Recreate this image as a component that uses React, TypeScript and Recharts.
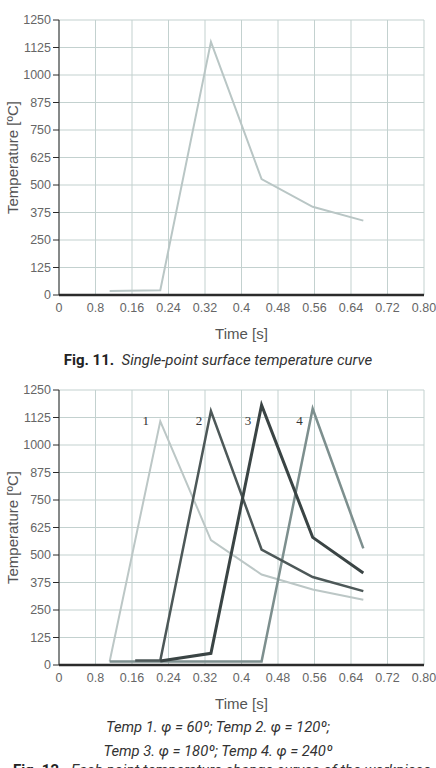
import React from 'react';
import { LineChart, Line, XAxis, YAxis, CartesianGrid, ReferenceDot } from 'recharts';

// tick positions are counted in steps of 0.08 s
const timeStep = 0.08;
const timeTicks = [0, 1, 2, 3, 4, 5, 6, 7, 8, 9, 10];
const timeTickLabels = ['0', '0.8', '0.16', '0.24', '0.32', '0.4', '0.48', '0.56', '0.64', '0.72', '0.80'];
const tempTicks = [0, 125, 250, 375, 500, 625, 750, 875, 1000, 1125, 1250];

// Fig. 11 - single point
const singleTimes = [0.111, 0.222, 0.333, 0.444, 0.556, 0.667];
const singleTemps = [18, 22, 1151, 527, 401, 338];

// Fig. 12 - four points
const temp1Times = [0.111, 0.222, 0.333, 0.444, 0.556, 0.667];
const temp1Values = [16, 1108, 568, 411, 343, 297];
const temp2Times = [0.167, 0.222, 0.333, 0.444, 0.556, 0.667];
const temp2Values = [20, 20, 1154, 525, 400, 336];
const temp3Times = [0.222, 0.333, 0.444, 0.556, 0.667];
const temp3Values = [18, 53, 1181, 580, 418];
const temp4Times = [0.111, 0.444, 0.556, 0.667];
const temp4Values = [16, 16, 1165, 530];

const curveNames = ['1', '2', '3', '4'];
const curveLabelTimes = [0.19, 0.307, 0.414, 0.527];
const curveLabelTemps = [1112, 1112, 1112, 1112];

const zip = (ts: number[], vs: number[]) => ts.map((t, i) => ({ step: t / timeStep, v: vs[i] }));

const sans = '"Liberation Sans", Arial, sans-serif';
const titleFont = { fontFamily: sans, fontSize: 15, fill: '#555' };

const TimeTick = (p: any) => (
  <text x={p.x} y={p.y} dy="0.71em" textAnchor="middle" fontFamily={sans} fontSize={12.5} fill="#666">
    {timeTickLabels[Math.round(p.payload.value)]}
  </text>
);

const TempTick = (p: any) => (
  <text x={p.x} y={p.y} dy="0.355em" textAnchor="end" fontFamily={sans} fontSize={12.5} fill="#666">
    {p.payload.value}
  </text>
);

type Series = { data: { step: number; v: number }[]; color: string; width: number };

const TempChart: React.FC<{ series: Series[]; labels?: boolean }> = ({ series, labels }) => (
  <LineChart width={436} height={345} margin={{ top: 20, right: 12, bottom: 0, left: 0 }}>
    <CartesianGrid stroke="#c3d1cf" />
    <XAxis
      type="number"
      dataKey="step"
      domain={[0, 10]}
      ticks={timeTicks}
      tick={TimeTick}
      tickLine={false}
      axisLine={{ stroke: '#2b2b2b', strokeWidth: 2.5 }}
      height={50}
      interval={0}
      label={{ value: 'Time [s]', position: 'insideBottom', offset: 6, style: titleFont }}
    />
    <YAxis
      type="number"
      dataKey="v"
      domain={[0, 1250]}
      ticks={tempTicks}
      tick={TempTick}
      stroke="#2b2b2b"
      width={59}
      interval={0}
      label={{ value: 'Temperature [ºC]', angle: -90, position: 'center', dx: -17, style: titleFont }}
    />
    {series.map((s, i) => (
      <Line
        key={i}
        data={s.data}
        dataKey="v"
        type="linear"
        stroke={s.color}
        strokeWidth={s.width}
        dot={false}
        isAnimationActive={false}
      />
    ))}
    {labels &&
      curveNames.map((n, i) => (
        <ReferenceDot
          key={n}
          x={curveLabelTimes[i] / timeStep}
          y={curveLabelTemps[i]}
          r={0}
          fill="none"
          stroke="none"
          label={{
            value: n,
            position: 'center',
            style: { fontFamily: '"Liberation Serif", "Times New Roman", serif', fontSize: 13, fill: '#333' },
          }}
        />
      ))}
  </LineChart>
);

const capStyle: React.CSSProperties = {
  position: 'absolute',
  left: 0,
  width: 436,
  textAlign: 'center',
  fontFamily: 'Roboto, "Liberation Sans", sans-serif',
  fontSize: 15,
  color: '#222',
  whiteSpace: 'nowrap',
  lineHeight: '18px',
};

export default function App() {
  return (
    <div style={{ position: 'absolute', top: 0, left: 0, width: 436, height: 768, overflow: 'hidden' }}>
      <div style={{ position: 'absolute', top: 0, left: 0 }}>
        <TempChart series={[{ data: zip(singleTimes, singleTemps), color: '#b9c6c5', width: 2 }]} />
      </div>
      <div style={{ ...capStyle, top: 351 }}>
        <b>Fig. 11.</b>&nbsp; <i style={{ color: '#333' }}>Single-point surface temperature curve</i>
      </div>
      <div style={{ position: 'absolute', top: 370, left: 0 }}>
        <TempChart
          labels
          series={[
            { data: zip(temp1Times, temp1Values), color: '#bcc7c6', width: 2 },
            { data: zip(temp4Times, temp4Values), color: '#7d8f8e', width: 2.5 },
            { data: zip(temp2Times, temp2Values), color: '#4d5858', width: 2.5 },
            { data: zip(temp3Times, temp3Values), color: '#3a4444', width: 3 },
          ]}
        />
      </div>
      <div style={{ ...capStyle, top: 718, fontSize: 14.8, color: '#333' }}>
        <i>Temp 1. φ = 60º; Temp 2. φ = 120º;</i>
      </div>
      <div style={{ ...capStyle, top: 742, fontSize: 14.8, color: '#333' }}>
        <i>Temp 3. φ = 180º; Temp 4. φ = 240º</i>
      </div>
      <div style={{ ...capStyle, top: 761, textAlign: 'left', left: 13 }}>
        <b>Fig. 12.</b>&nbsp; <i style={{ color: '#333' }}>Each point temperature change curves of the workpiece</i>
      </div>
    </div>
  );
}
